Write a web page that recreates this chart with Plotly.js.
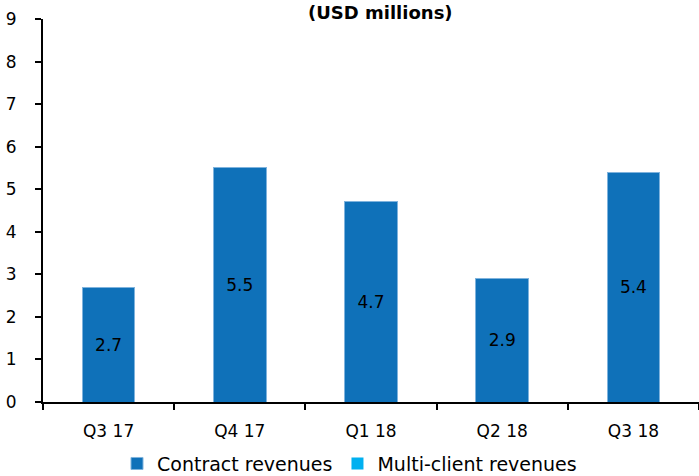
<!DOCTYPE html>
<html>
<head>
<meta charset="utf-8">
<script src="https://cdn.plot.ly/plotly-3.0.1.min.js"></script>
<style>html,body{margin:0;padding:0;background:#fff}#chart{width:699px;height:476px}</style>
</head>
<body>
<div id="chart"></div>
<script>
const categories = ["Q3 17", "Q4 17", "Q1 18", "Q2 18", "Q3 18"];
const contractRevenues = [2.7, 5.5, 4.7, 2.9, 5.4];
const multiClientRevenues = [0, 0, 0, 0, 0];
const yTicks = [0, 1, 2, 3, 4, 5, 6, 7, 8, 9];
const titleText = "(USD millions)";

const FONT = "'DejaVu Sans', Lato, sans-serif";

const traces = [
  {
    type: "bar",
    name: "Contract revenues",
    x: categories,
    y: contractRevenues,
    marker: {color: "#0F71B9", line: {color: "#7FB3DD", width: 1}},
    text: contractRevenues.map(v => v.toFixed(1)),
    textposition: "inside",
    insidetextanchor: "middle",
    textfont: {color: "#000000", size: 17, family: FONT},
    hoverinfo: "x+y"
  },
  {
    type: "bar",
    name: "Multi-client revenues",
    x: categories,
    y: multiClientRevenues,
    marker: {color: "#00B0F0"},
    hoverinfo: "x+y"
  }
];

const layout = {
  width: 699,
  height: 476,
  margin: {l: 43, r: 0, t: 19, b: 74},
  paper_bgcolor: "#ffffff",
  plot_bgcolor: "#ffffff",
  barmode: "stack",
  bargap: 0.6,
  font: {family: FONT, size: 16, color: "#000000"},
  annotations: [{
    text: "<b>" + titleText + "</b>",
    font: {family: FONT, size: 18, color: "#000000"},
    xref: "paper", x: 0.515, xanchor: "center",
    yref: "paper", y: 1, yanchor: "top", yshift: 19,
    showarrow: false
  }],
  xaxis: {
    type: "category",
    showline: true, linecolor: "#000000", linewidth: 2,
    ticks: "outside", tickson: "boundaries", ticklen: 6, tickcolor: "#000000", tickwidth: 2,
    ticklabelstandoff: 13,
    tickfont: {family: FONT, size: 17, color: "#000000"},
    showgrid: false, zeroline: false
  },
  yaxis: {
    range: [0, 9],
    tickvals: yTicks,
    showline: true, linecolor: "#000000", linewidth: 2,
    ticks: "outside", ticklen: 6, tickcolor: "#000000", tickwidth: 2,
    ticklabelstandoff: 15,
    tickfont: {family: FONT, size: 17, color: "#000000"},
    showgrid: false, zeroline: false
  },
  legend: {
    orientation: "h",
    x: 0.5, xanchor: "center", xref: "container",
    y: 0.026, yanchor: "middle", yref: "container",
    font: {family: FONT, size: 19, color: "#000000"},
    traceorder: "normal"
  },
  showlegend: true
};

Plotly.newPlot("chart", traces, layout, {displayModeBar: false, staticPlot: true});
</script>
</body>
</html>
